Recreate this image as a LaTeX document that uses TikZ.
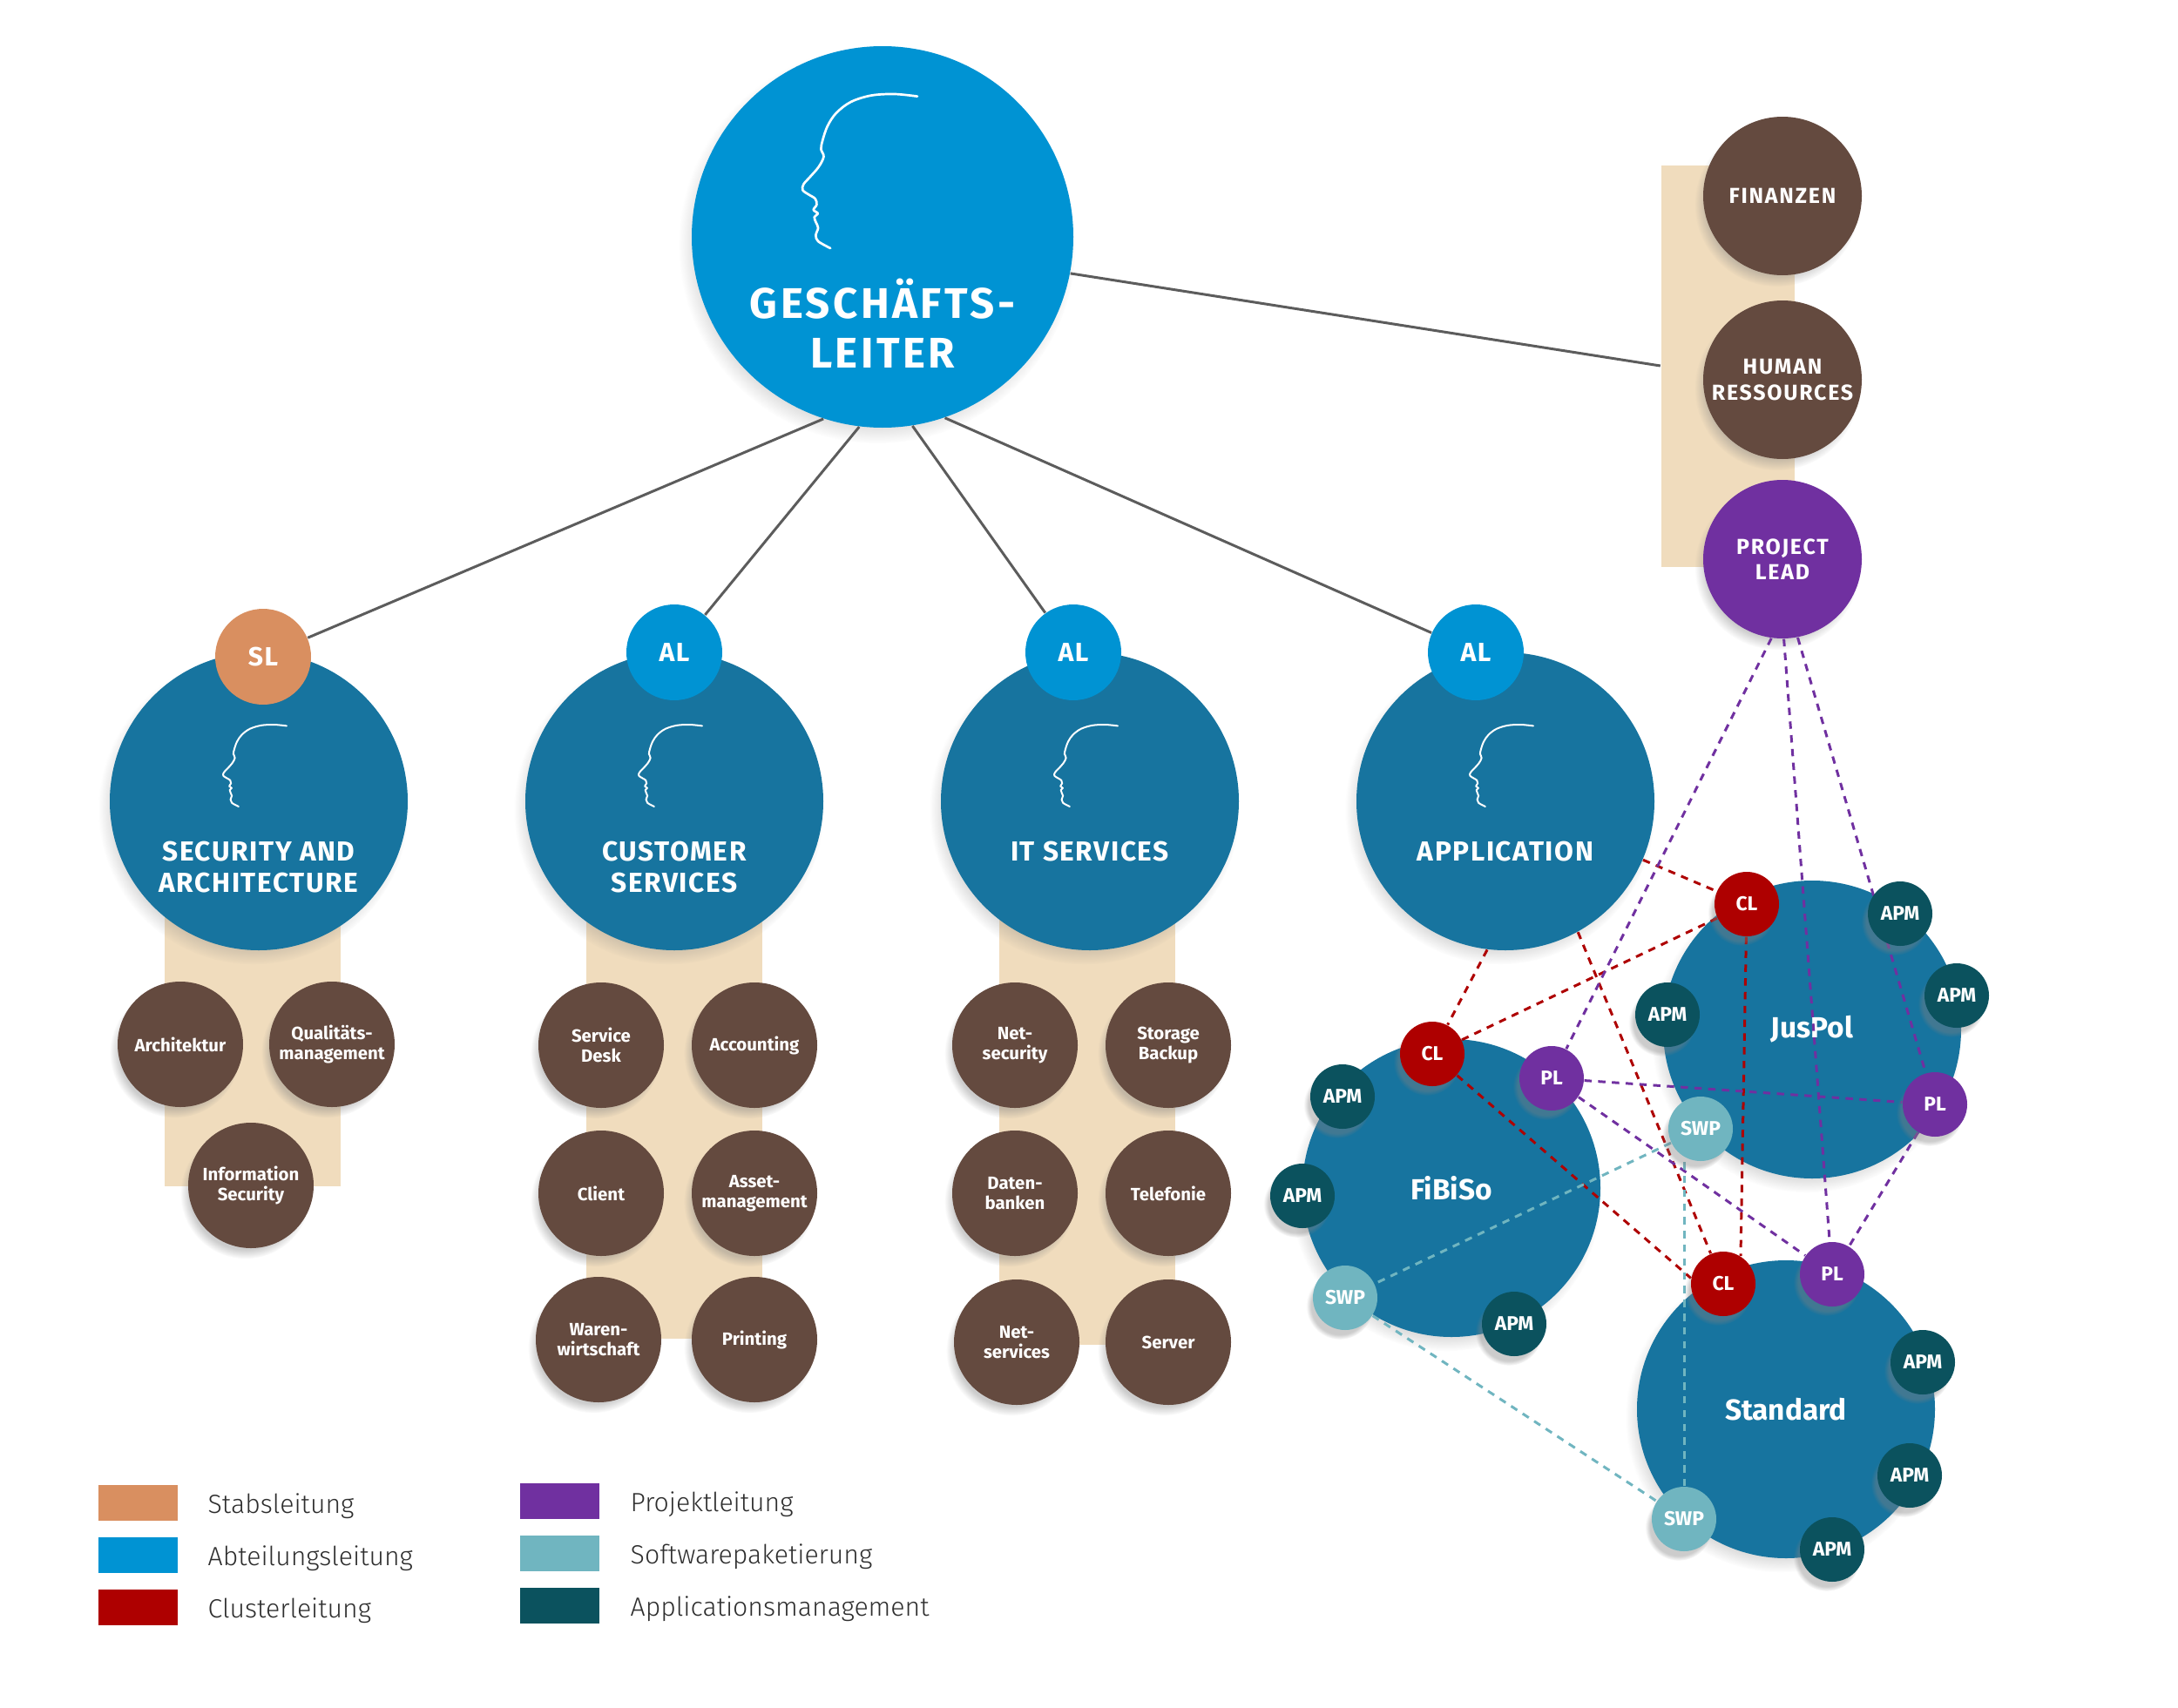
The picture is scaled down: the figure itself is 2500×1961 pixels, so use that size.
\documentclass[tikz,border=0pt]{standalone}
\usepackage{fontspec}
\setmainfont{Fira Sans}
\newfontfamily\lightfont{Fira Sans Light}
\newfontfamily\widefont{Fira Sans}[LetterSpace=7]
\newfontfamily\midfont{Fira Sans}[LetterSpace=5]
\usetikzlibrary{shadows,calc}
\definecolor{gblue}{HTML}{0093D3}
\definecolor{dblue}{HTML}{17749F}
\definecolor{brownc}{HTML}{644A3F}
\definecolor{beigec}{HTML}{F0DCBD}
\definecolor{orangec}{HTML}{D98F60}
\definecolor{purplec}{HTML}{7030A0}
\definecolor{redc}{HTML}{AE0000}
\definecolor{lteal}{HTML}{70B5C0}
\definecolor{dteal}{HTML}{0B525E}
\definecolor{linec}{HTML}{5C5C5C}
\definecolor{legc}{HTML}{2E2E2E}
\pgfdeclarelayer{fore}
\pgfsetlayers{main,fore}
\newcommand\headicon[5]{%
  \begin{scope}[shift={(#1,#2)},xscale=#3,yscale=#4]
  \draw[white,line width=#5,line cap=round,line join=round] plot[smooth,tension=0.55] coordinates {
   (1.0,0.015) (0.805,0) (0.605,0.009) (0.43,0.051) (0.305,0.123) (0.23,0.208)
   (0.1875,0.302) (0.175,0.358) (0.1975,0.406) (0.155,0.472) (0.08,0.538)
   (0.025,0.585) (0.0175,0.623) (0.0675,0.651) (0.125,0.679) (0.1375,0.717)
   (0.11,0.751) (0.1475,0.774) (0.1175,0.798) (0.13,0.830) (0.15,0.868)
   (0.13,0.915) (0.15,0.955) (0.255,1.0)};
  \end{scope}}
\tikzset{
  circbase/.style={circle,inner sep=0pt,align=center,text=white},
  shad/.style={circular drop shadow={shadow xshift=-0.6mm,shadow yshift=-0.9mm,opacity=0.4,shadow scale=1.04}},
  topc/.style={circbase,shad,fill=gblue,minimum size=43.8mm},
  deptc/.style={circbase,shad,fill=dblue,minimum size=34.2mm},
  badgec/.style={circbase,minimum size=11mm,font=\midfont\bfseries\fontsize{8.6}{9}\selectfont},
  staffc/.style={circbase,shad,minimum size=18.2mm,font=\widefont\bfseries\fontsize{7.1}{8.3}\selectfont},
  unitc/.style={circbase,shad,fill=brownc,minimum size=14.4mm,font=\bfseries\fontsize{5.8}{6.6}\selectfont},
  clusc/.style={circbase,shad,fill=dblue,minimum size=34.2mm,font=\bfseries\fontsize{9.5}{10}\selectfont},
  rolec/.style={circbase,shad,minimum size=7.4mm,font=\bfseries\fontsize{6.5}{7}\selectfont},
  apmc/.style={rolec,fill=dteal},
  clc/.style={rolec,fill=redc},
  plc/.style={rolec,fill=purplec},
  swpc/.style={rolec,fill=lteal},
  bgrect/.style={rectangle,fill=beigec,draw=none,inner sep=0pt},
  treeline/.style={draw=linec,line width=0.85pt},
  dashl/.style={line width=0.85pt,dash pattern=on 2.4pt off 2.1pt},
  dred/.style={dashl,draw=redc},
  dpur/.style={dashl,draw=purplec},
  dtea/.style={dashl,draw=lteal},
  mainlabel/.style={text=white,font=\widefont\bfseries\fontsize{14}{16.2}\selectfont,align=center,anchor=base},
  deptlabel/.style={text=white,font=\midfont\bfseries\fontsize{9}{10.2}\selectfont,align=center,anchor=base},
  swatch/.style={rectangle,minimum width=9.1mm,minimum height=4.1mm,inner sep=0pt},
  legtext/.style={anchor=base west,inner sep=0pt,font=\lightfont\fontsize{8.6}{10}\selectfont,text=legc},
}
\begin{document}
\begin{tikzpicture}[x=0.1mm,y=-0.1mm]
\useasboundingbox (0,0) rectangle (2500,1961);
% beige backgrounds
\node[bgrect,minimum width=20.2mm,minimum height=31.4mm] (secbg) at (290,1205) {};
\node[bgrect,minimum width=20.2mm,minimum height=48.7mm] (cusbg) at (774,1293) {};
\node[bgrect,minimum width=20.2mm,minimum height=49.4mm] (itbg) at (1248,1297) {};
\node[bgrect,minimum width=15.3mm,minimum height=46.1mm] (staffbg) at (1983,420) {};
% top
\node[topc] (gl) at (1013,272) {};
\headicon{919}{108}{134}{177}{0.27mm}
\node[mainlabel] (glT) at (1013,422) {GESCHÄFTS-\\LEITER};
% staff column
\node[staffc,fill=brownc] (fin) at (2046,225) {FINANZEN};
\node[staffc,fill=brownc] (hr) at (2046,436) {HUMAN\\RESSOURCES};
\node[staffc,fill=purplec] (pl) at (2046,642) {PROJECT\\LEAD};
% departments
\node[deptc] (sec) at (297,920) {};
\node[deptc] (cus) at (774,920) {};
\node[deptc] (its) at (1251,920) {};
\node[deptc] (app) at (1728,920) {};
\headicon{255}{832}{74}{94}{0.2mm}
\headicon{732}{832}{74}{94}{0.2mm}
\headicon{1209}{832}{74}{94}{0.2mm}
\headicon{1686}{832}{74}{94}{0.2mm}
\node[deptlabel] (secT) at (297,1024) {SECURITY AND\\ARCHITECTURE};
\node[deptlabel] (cusT) at (774,1024) {CUSTOMER\\SERVICES};
\node[deptlabel] (itsT) at (1251,988) {IT SERVICES};
\node[deptlabel] (appT) at (1728,988) {APPLICATION};
% badges
\node[badgec,fill=orangec] (sl) at (302,754) {SL};
\node[badgec,fill=gblue] (al1) at (774,749) {AL};
\node[badgec,fill=gblue] (al2) at (1232,749) {AL};
\node[badgec,fill=gblue] (al3) at (1694,749) {AL};
% tree lines
\draw[treeline] (gl.252) -- (sl);
\draw[treeline] (gl.263) -- (al1);
\draw[treeline] (gl.279) -- (al2);
\draw[treeline] (gl.289) -- (al3);
\draw[treeline] (gl.349) -- (staffbg.west);
% units
\node[unitc] (u1) at (207,1199) {Architektur};
\node[unitc] (u2) at (381,1199) {Qualitäts-\\management};
\node[unitc] (u3) at (288,1361) {Information\\Security};
\node[unitc] (u4) at (690,1200) {Service\\Desk};
\node[unitc] (u5) at (866,1200) {Accounting};
\node[unitc] (u6) at (690,1370) {Client};
\node[unitc] (u7) at (866,1370) {Asset-\\management};
\node[unitc] (u8) at (687,1538) {Waren-\\wirtschaft};
\node[unitc] (u9) at (866,1538) {Printing};
\node[unitc] (u10) at (1165,1200) {Net-\\security};
\node[unitc] (u11) at (1341,1200) {Storage\\Backup};
\node[unitc] (u12) at (1165,1370) {Daten-\\banken};
\node[unitc] (u13) at (1341,1370) {Telefonie};
\node[unitc] (u14) at (1167,1541) {Net-\\services};
\node[unitc] (u15) at (1341,1541) {Server};
% clusters
\begin{scope}[shift={(-4,-2)}]
\node[clusc] (jus) at (2084,1184) {JusPol};
\node[clusc] (fib) at (1670,1366) {FiBiSo};
\node[clusc] (std) at (2054,1620) {Standard};
% role nodes on the foreground layer
\begin{pgfonlayer}{fore}
\node[clc] (clJ) at (2009,1040) {CL};
\node[clc] (clF) at (1648,1212) {CL};
\node[clc] (clS) at (1982,1476) {CL};
\node[plc] (plF) at (1785,1240) {PL};
\node[plc] (plJ) at (2225,1270) {PL};
\node[plc] (plS) at (2107,1465) {PL};
\node[swpc] (swJ) at (1956,1298) {SWP};
\node[swpc] (swF) at (1548,1492) {SWP};
\node[swpc] (swS) at (1937,1746) {SWP};
\node[apmc] (aJ1) at (2185,1051) {APM};
\node[apmc] (aJ2) at (2250,1145) {APM};
\node[apmc] (aJ3) at (1918,1167) {APM};
\node[apmc] (aF1) at (1545,1261) {APM};
\node[apmc] (aF2) at (1499,1375) {APM};
\node[apmc] (aF3) at (1742,1522) {APM};
\node[apmc] (aS1) at (2211,1566) {APM};
\node[apmc] (aS2) at (2196,1696) {APM};
\node[apmc] (aS3) at (2107,1781) {APM};
\end{pgfonlayer}
\end{scope}
% dashed links
\draw[dred] (app) -- (clJ);
\draw[dred] (app.263) -- (clF);
\draw[dred] (clF) -- (clJ);
\draw[dred] (app.299) -- (clS);
\draw[dred] (clF) -- (clS.170);
\draw[dred] (clJ) -- (clS.58);
\draw[dpur] (pl.262) -- (plF);
\draw[dpur] (pl.271) -- (plS);
\draw[dpur] (pl.281) -- (plJ);
\draw[dpur] (plF) -- (plJ);
\draw[dpur] (plF) -- (plS);
\draw[dpur] (plJ) -- (plS);
\draw[dtea] (swJ) -- (swF);
\draw[dtea] (swF) -- (swS);
\draw[dtea] (swS) -- (swS |- swJ);
% legend
\node[swatch,fill=orangec] (k1) at (158.5,1725.5) {};
\node[swatch,fill=gblue] (k2) at (158.5,1785.5) {};
\node[swatch,fill=redc] (k3) at (158.5,1845.5) {};
\node[swatch,fill=purplec] (k4) at (642.5,1723.5) {};
\node[swatch,fill=lteal] (k5) at (642.5,1783.5) {};
\node[swatch,fill=dteal] (k6) at (642.5,1843.5) {};
\node[legtext] (t1) at (238,1737) {Stabsleitung};
\node[legtext] (t2) at (238,1797) {Abteilungsleitung};
\node[legtext] (t3) at (238,1857) {Clusterleitung};
\node[legtext] (t4) at (723,1735) {Projektleitung};
\node[legtext] (t5) at (723,1795) {Softwarepaketierung};
\node[legtext] (t6) at (723,1855) {Applicationsmanagement};
\end{tikzpicture}
\end{document}
